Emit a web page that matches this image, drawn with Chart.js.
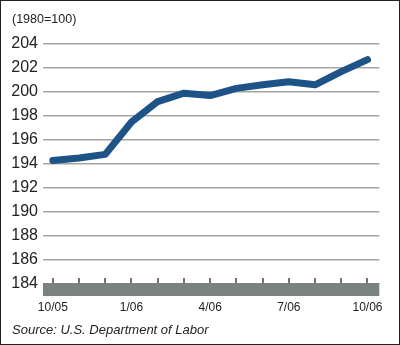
<!DOCTYPE html>
<html lang="en">
<head>
<meta charset="UTF-8" />
<title>Consumer Price Index</title>
<script src="https://cdn.jsdelivr.net/npm/chart.js"></script>
<style>
  body{margin:0;background:#fff}
  .frame{width:398px;height:343px;border:1px solid #222;background:#fff}
  canvas{display:block}
</style>
</head>
<body>
<div class="frame"><canvas id="cpiChart" width="398" height="343"></canvas></div>
<script>
// monthly index, 1980=100
const months = ['10/05','11/05','12/05','1/06','2/06','3/06','4/06','5/06','6/06','7/06','8/06','9/06','10/06'];
const cpiValues = [194.3, 194.5, 194.8, 197.5, 199.2, 199.9, 199.7, 200.3, 200.6, 200.85, 200.6, 201.7, 202.7];
const labelledMonths = [0, 3, 6, 9, 12];
const yTicks = [184, 186, 188, 190, 192, 194, 196, 198, 200, 202, 204];

const FONT = "'Liberation Sans', Arial, sans-serif";
const INK = '#222';

// gray base strip along the bottom with small monthly ticks on top
const baseStrip = {
  id: 'baseStrip',
  beforeDatasetsDraw(chart){
    const {ctx, chartArea, scales:{x, y}} = chart;
    const top = y.getPixelForValue(yTicks[0]) - 1;
    ctx.save();
    ctx.fillStyle = '#7b8381';
    ctx.fillRect(chartArea.left, top, chartArea.right - chartArea.left, 13);
    ctx.strokeStyle = '#6e7472';
    ctx.lineWidth = 2;
    months.forEach((m, i) => {
      const px = Math.round(x.getPixelForValue(i));
      ctx.beginPath();
      ctx.moveTo(px, top - 5);
      ctx.lineTo(px, top);
      ctx.stroke();
    });
    ctx.restore();
  }
};

new Chart(document.getElementById('cpiChart'), {
  type: 'line',
  data: {
    datasets: [{
      data: cpiValues.map((v, i) => ({x: i, y: v})),
      borderColor: '#1d5386',
      borderWidth: 7,
      borderCapStyle: 'round',
      borderJoinStyle: 'round',
      pointRadius: 0,
      tension: 0
    }]
  },
  options: {
    responsive: false,
    animation: false,
    layout: {padding: {left: 11, right: 14, top: 0, bottom: 6}},
    plugins: {
      legend: {display: false},
      tooltip: {enabled: false},
      title: {
        display: true,
        text: '(1980=100)',
        align: 'start',
        color: INK,
        font: {family: FONT, size: 12.5, weight: 'normal'},
        padding: {top: 11, bottom: 17}
      },
      subtitle: {
        display: true,
        position: 'bottom',
        text: 'Source: U.S. Department of Labor',
        align: 'start',
        color: INK,
        font: {family: FONT, size: 13, style: 'italic'},
        padding: {top: 7.4, bottom: 0}
      }
    },
    scales: {
      x: {
        type: 'linear',
        min: -0.375,
        max: 12.45,
        afterBuildTicks(axis){ axis.ticks = labelledMonths.map(v => ({value: v})); },
        afterFit(axis){ axis.height = 31; },
        ticks: {
          callback: v => months[v],
          color: INK,
          font: {family: FONT, size: 12},
          padding: 16,
          maxRotation: 0,
          autoSkip: false
        },
        grid: {display: false, drawTicks: false},
        border: {display: false}
      },
      y: {
        min: 184,
        max: 204,
        afterBuildTicks(axis){ axis.ticks = yTicks.map(v => ({value: v})); },
        afterFit(axis){ axis.width = 31; },
        ticks: {
          color: INK,
          font: {family: FONT, size: 16},
          padding: 5,
          autoSkip: false
        },
        grid: {color: '#a3a5a4', lineWidth: 1.5, drawTicks: false},
        border: {display: false}
      }
    }
  },
  plugins: [baseStrip]
});
</script>
</body>
</html>
